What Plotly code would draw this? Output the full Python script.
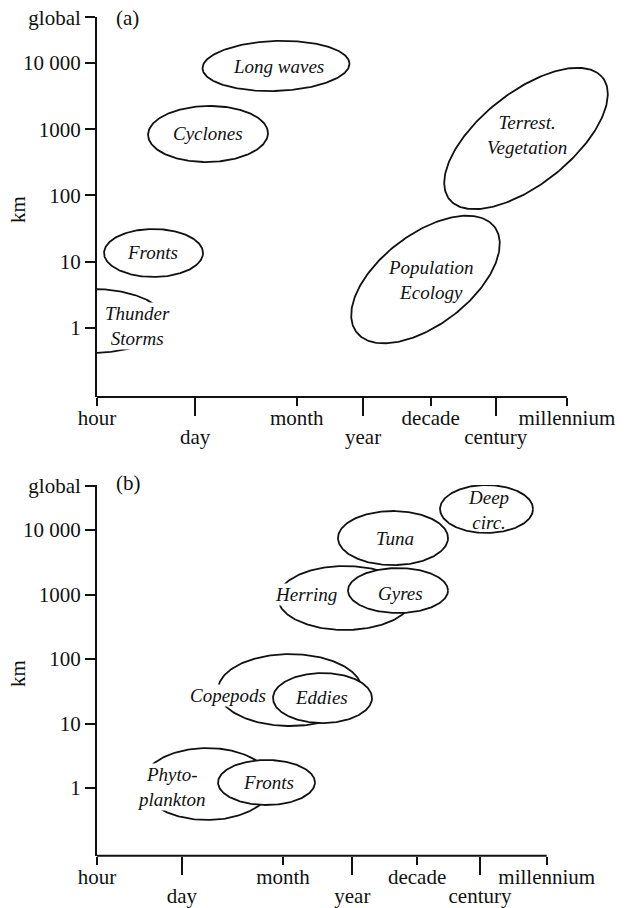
import numpy as np
import plotly.graph_objects as go

# ---------------- tick labels ----------------
time_labels_row1 = ["hour", "month", "decade", "millennium"]
time_labels_row2 = ["day", "year", "century"]
time_pos_a_row1 = [0.0, 2.95, 4.93, 6.94]
time_pos_a_row2 = [1.45, 3.93, 5.89]
time_pos_b_row1 = [0.0, 2.87, 4.94, 6.94]
time_pos_b_row2 = [1.31, 3.94, 5.91]
km_labels = ["1", "10", "100", "1000", "10 000", "global"]
km_pos = [0, 1, 2, 3, 4, 4.69]

# ---------------- panel (a): atmosphere / land ----------------
a_names = ["Long waves", "Cyclones", "Fronts", "Thunder<br>Storms",
           "Terrest.<br>Vegetation", "Population<br>Ecology"]
a_cx = [2.644, 1.640, 0.835, -0.074, 6.337, 4.852]   # log time units
a_cy = [3.955, 2.928, 1.132, 0.106, 2.860, 0.732]    # log10 km
a_rx = [1.086, 0.886, 0.731, 1.078, 1.458, 1.293]
a_ry = [0.377, 0.423, 0.362, 0.483, 0.687, 0.678]
a_rot = [2, 1, 0, 0, 39.4, 38.4]
a_tx = [2.688, 1.640, 0.827, 0.591, 6.352, 4.919]
a_ty = [3.940, 2.943, 1.147, 0.030, 2.913, 0.725]
a_bg = [False, False, False, True, False, False]

# ---------------- panel (b): ocean ----------------
b_names = ["Phyto-<br>plankton", "Fronts", "Copepods", "Eddies",
           "Herring", "Gyres", "Tuna", "Deep<br>circ."]
b_cx = [1.698, 2.616, 2.978, 3.480, 3.827, 4.645, 4.568, 6.011]
b_cy = [0.062, 0.085, 1.519, 1.395, 2.946, 3.062, 3.876, 4.326]
b_rx = [1.003, 0.748, 1.111, 0.764, 1.034, 0.772, 0.849, 0.718]
b_ry = [0.558, 0.349, 0.558, 0.388, 0.496, 0.349, 0.419, 0.372]
b_rot = [0, 0, 0, 0, 0, 0, 0, 0]
b_tx = [1.142, 2.639, 2.022, 3.457, 3.225, 4.676, 4.599, 6.049]
b_ty = [0.016, 0.078, 1.442, 1.411, 3.008, 3.023, 3.876, 4.310]
b_bg = [True, False, True, False, True, False, False, False]

SERIF = "Liberation Serif, Times New Roman, serif"
INK = "#111111"

W, H = 631, 908


def PX(px):
    return px / W


def PY(py):
    return 1 - py / H


fig = go.Figure()


def add_ellipses(cx, cy, rx, ry, rot, xa, ya):
    t = np.linspace(0, 2 * np.pi, 240)
    for x0, y0, a, b, r in zip(cx, cy, rx, ry, rot):
        p = np.deg2rad(r)
        xs = x0 + a * np.cos(t) * np.cos(p) - b * np.sin(t) * np.sin(p)
        ys = y0 + a * np.cos(t) * np.sin(p) + b * np.sin(t) * np.cos(p)
        fig.add_trace(go.Scatter(
            x=xs, y=ys, mode="lines", xaxis=xa, yaxis=ya,
            line=dict(color=INK, width=1.8), fill="toself",
            fillcolor="white", hoverinfo="skip", showlegend=False))


add_ellipses(a_cx, a_cy, a_rx, a_ry, a_rot, "x", "y")
add_ellipses(b_cx, b_cy, b_rx, b_ry, b_rot, "x2", "y2")
# empty traces so the overlay axes are drawn
fig.add_trace(go.Scatter(x=[], y=[], xaxis="x3", yaxis="y", showlegend=False))
fig.add_trace(go.Scatter(x=[], y=[], xaxis="x4", yaxis="y2", showlegend=False))

annotations = []
for names, tx, ty, bg, xr, yr in [(a_names, a_tx, a_ty, a_bg, "x", "y"),
                                   (b_names, b_tx, b_ty, b_bg, "x2", "y2")]:
    for n, x, y, g in zip(names, tx, ty, bg):
        annotations.append(dict(
            x=x, y=y, xref=xr, yref=yr, text="<i>" + n + "</i>",
            xanchor="center", yanchor="middle",
            showarrow=False, font=dict(family=SERIF, size=19, color=INK),
            bgcolor="white" if g else "rgba(0,0,0,0)", borderpad=0))

lab = dict(xref="paper", yref="paper", showarrow=False, xanchor="center",
           yanchor="middle", font=dict(family=SERIF, size=21, color=INK))
annotations += [
    dict(x=PX(18), y=PY(210), text="km", textangle=-90, **lab),
    dict(x=PX(18), y=PY(674), text="km", textangle=-90, **lab),
    dict(x=PX(127), y=PY(18), text="(a)", **lab),
    dict(x=PX(128), y=PY(483), text="(b)", **lab),
]

shapes = [
    dict(type="line", xref="x", yref="y domain", x0=0, x1=6.94, y0=0, y1=0,
         line=dict(color=INK, width=2)),
    dict(type="line", xref="x2", yref="y2 domain", x0=0, x1=6.94, y0=0, y1=0,
         line=dict(color=INK, width=2)),
]

tickfont = dict(family=SERIF, size=21, color=INK)
xdom = [PX(97), PX(620)]
ra = [0, 523 / 67.7]
rb = [0, 523 / 64.8]
common_x = dict(showgrid=False, zeroline=False, showline=False, ticks="outside",
                tickwidth=2, tickcolor=INK, tickfont=tickfont, tickmode="array",
                fixedrange=True, automargin=False, ticklabeloverflow="allow")
common_y = dict(showgrid=False, zeroline=False, showline=True, linecolor=INK,
                linewidth=2, ticks="outside", ticklen=10, tickwidth=2,
                tickcolor=INK, tickfont=tickfont, tickmode="array",
                tickvals=km_pos, ticktext=km_labels, fixedrange=True,
                automargin=False, ticklabeloverflow="allow")

fig.update_layout(
    width=W, height=H, margin=dict(l=0, r=0, t=0, b=0, autoexpand=False),
    paper_bgcolor="white", plot_bgcolor="white", showlegend=False,
    xaxis=dict(domain=xdom, range=ra, anchor="y", tickvals=time_pos_a_row1,
               ticktext=time_labels_row1, ticklen=8, ticklabelstandoff=-6,
               **common_x),
    xaxis3=dict(domain=xdom, range=ra, anchor="y", overlaying="x", side="bottom",
                tickvals=time_pos_a_row2, ticktext=time_labels_row2, ticklen=18,
                ticklabelstandoff=3, **common_x),
    yaxis=dict(domain=[PY(396.9), PY(16.6)], range=[-1.04, 4.70],
               anchor="x", **common_y),
    xaxis2=dict(domain=xdom, range=rb, anchor="y2", tickvals=time_pos_b_row1,
                ticktext=time_labels_row1, ticklen=8, ticklabelstandoff=-6,
                **common_x),
    xaxis4=dict(domain=xdom, range=rb, anchor="y2", overlaying="x2", side="bottom",
                tickvals=time_pos_b_row2, ticktext=time_labels_row2, ticklen=18,
                ticklabelstandoff=3, **common_x),
    yaxis2=dict(domain=[PY(855.7), PY(484.9)], range=[-1.05, 4.70],
                anchor="x2", **common_y),
    annotations=annotations, shapes=shapes,
)

fig.write_html(
    "out.html",
    config={"displayModeBar": False, "staticPlot": True},
    post_script="document.body.style.margin='0px';"
                "document.body.style.overflow='hidden';",
)
